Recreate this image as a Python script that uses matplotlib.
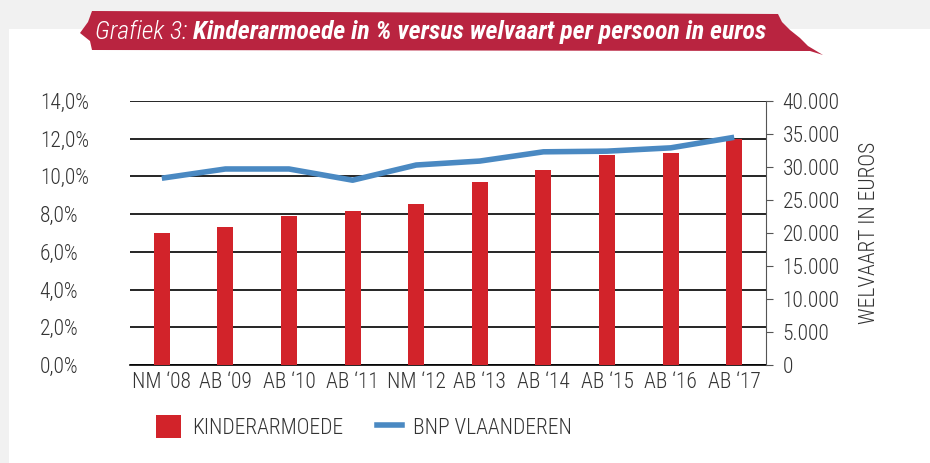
import matplotlib
matplotlib.use("Agg")
import matplotlib.pyplot as plt
import matplotlib.ticker as mticker
from matplotlib.patches import Polygon, Patch, Rectangle
from matplotlib.lines import Line2D
import numpy as np

# --- data ---
categories = ["NM ‘08", "AB ‘09", "AB ‘10", "AB ‘11", "NM ‘12",
              "AB ‘13", "AB ‘14", "AB ‘15", "AB ‘16", "AB ‘17"]
kinderarmoede = [7.0, 7.3, 7.9, 8.15, 8.55, 9.7, 10.35, 11.15, 11.25, 12.0]
bnp_vlaanderen = [28300, 29700, 29700, 28000, 30300, 30900, 32300, 32400, 32900, 34500]

RED = "#D2232A"
BLUE = "#4A89C2"
BANNER = "#B92440"
TXT = "#333333"
W, H = 930, 463

plt.rcParams['font.family'] = ['Roboto Condensed', 'DejaVu Sans']


def fx(px):
    return px / W


def fy(py):
    return 1 - py / H


fig = plt.figure(figsize=(9.3, 4.63), dpi=100)
fig.patch.set_facecolor("#f1f1f1")
# white page panel, behind everything
fig.patches.append(Rectangle((fx(9), 0), 1, fy(29), transform=fig.transFigure,
                             facecolor="white", edgecolor="none", zorder=-10))

# banner (torn ribbon)
bx = [92, 778, 782, 790, 800, 808, 823, 810, 92, 90, 80, 88]
by = [11, 14, 22, 30, 38, 46, 55, 51, 50, 41, 33, 22]
fig.patches.append(Polygon([(fx(x), fy(y)) for x, y in zip(bx, by)],
                           closed=True, transform=fig.transFigure,
                           facecolor=BANNER, edgecolor="none", zorder=-5))
t1 = fig.text(fx(95), fy(32), "Grafiek 3: ", color="white", fontsize=18.5,
              style="italic", weight="light", va="center", ha="left")
fig.canvas.draw()
bb = t1.get_window_extent()
fig.text(bb.x1 / W, fy(32), "Kinderarmoede in % versus welvaart per persoon in euros",
         color="white", fontsize=18.5, style="italic", weight="bold", va="center", ha="left")

ax = fig.add_axes([fx(130), fy(365), 636 / W, 264 / H])
ax.set_facecolor("none")
x = np.arange(len(categories))
ax.bar(x, kinderarmoede, width=0.25, color=RED, zorder=3)
ax.set_xlim(-0.5, len(categories) - 0.5)
ax.set_ylim(0, 14)
ax.yaxis.set_major_locator(mticker.MultipleLocator(2))
ax.yaxis.set_major_formatter(mticker.FuncFormatter(lambda v, p: f"{v:.1f}%".replace(".", ",")))
ax.grid(axis="y", color="black", linewidth=1.2, zorder=0)
ax.set_axisbelow(True)
for s in ["top", "right", "left"]:
    ax.spines[s].set_visible(False)
ax.spines["bottom"].set_color("black")
ax.spines["bottom"].set_linewidth(1.2)
ax.set_xticks(x)
ax.set_xticklabels(categories)
ax.tick_params(axis="x", length=0, labelsize=15.5, colors=TXT, pad=5)
ax.tick_params(axis="y", length=0, labelsize=15.5, colors=TXT, pad=65)
for lab in ax.get_yticklabels() + ax.get_xticklabels():
    lab.set_fontweight("light")
for lab in ax.get_yticklabels():
    lab.set_horizontalalignment("left")

ax2 = ax.twinx()
ax2.plot(x, bnp_vlaanderen, color=BLUE, linewidth=4, zorder=4, solid_capstyle="butt")
ax2.set_ylim(0, 40000)
ax2.yaxis.set_major_locator(mticker.MultipleLocator(5000))
ax2.yaxis.set_major_formatter(mticker.FuncFormatter(lambda v, p: f"{int(v):,}".replace(",", ".")))
for s in ["top", "left", "bottom"]:
    ax2.spines[s].set_visible(False)
ax2.spines["right"].set_color("#555555")
ax2.tick_params(axis="y", direction="out", length=5, color="#555555", labelsize=15.5, colors=TXT, pad=7)
for lab in ax2.get_yticklabels():
    lab.set_fontweight("light")
ax2.set_ylabel("WELVAART IN EUROS", fontsize=15.5, color=TXT, labelpad=14, fontweight="light")

handles = [Patch(facecolor=RED, edgecolor="none", label="KINDERARMOEDE"),
           Line2D([0], [0], color=BLUE, linewidth=4, label="BNP VLAANDEREN")]
leg = fig.legend(handles=handles, loc="center left", bbox_to_anchor=(fx(137), fy(427)),
                 ncol=2, frameon=False, fontsize=15.5, handlelength=1.15, handleheight=1.3,
                 columnspacing=1.6, handletextpad=0.5, labelcolor=TXT)
for t in leg.get_texts():
    t.set_fontweight("light")

fig.savefig("out.png", dpi=100)
